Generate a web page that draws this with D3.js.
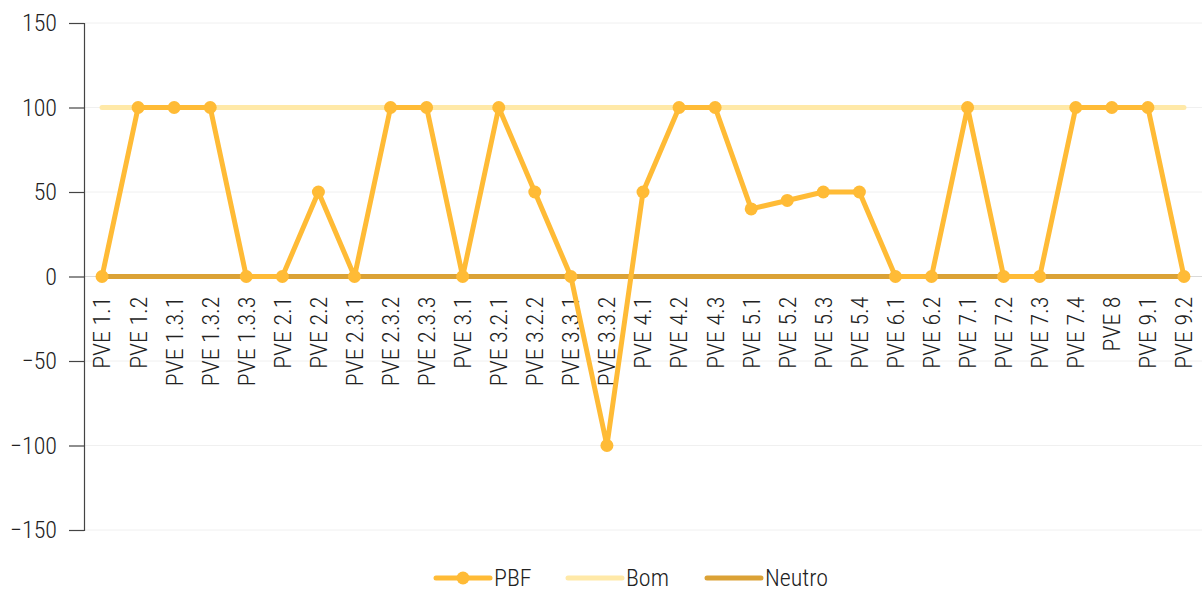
<!DOCTYPE html>
<html>
<head>
<meta charset="utf-8">
<script src="https://cdn.jsdelivr.net/npm/d3@7"></script>
<style>
  body { margin: 0; background: #fff; }
  svg text { font-family: "Roboto Condensed", "Liberation Sans Narrow", Roboto, sans-serif; font-weight: 300; fill: #222; }
</style>
</head>
<body>
<svg id="chart" width="1202" height="592"></svg>
<script>
var categories = ['PVE 1.1','PVE 1.2','PVE 1.3.1','PVE 1.3.2','PVE 1.3.3','PVE 2.1','PVE 2.2','PVE 2.3.1',
  'PVE 2.3.2','PVE 2.3.3','PVE 3.1','PVE 3.2.1','PVE 3.2.2','PVE 3.3.1','PVE 3.3.2','PVE 4.1','PVE 4.2',
  'PVE 4.3','PVE 5.1','PVE 5.2','PVE 5.3','PVE 5.4','PVE 6.1','PVE 6.2','PVE 7.1','PVE 7.2','PVE 7.3',
  'PVE 7.4','PVE 8','PVE 9.1','PVE 9.2'];
var pbf    = [0,100,100,100,0,0,50,0,100,100,0,100,50,0,-100,50,100,100,40,45,50,50,0,0,100,0,0,100,100,100,0];
var bom    = categories.map(function() { return 100; });
var neutro = categories.map(function() { return 0; });
var yTicks = [-150,-100,-50,0,50,100,150];

var svg = d3.select("#chart");
var m = { left: 84, right: 0, top: 23, bottom: 62 };
var W = 1202, H = 592;
var FONT = '"Roboto Condensed", "Liberation Sans Narrow", Roboto, sans-serif';

var x = d3.scalePoint().domain(categories).range([m.left, W - m.right]).padding(0.5);
var y = d3.scaleLinear().domain([-150, 150]).range([H - m.bottom, m.top]);

// gridlines
svg.append("g").selectAll("line")
  .data(yTicks).enter().append("line")
  .attr("x1", m.left).attr("x2", W)
  .attr("y1", function(d) { return y(d); }).attr("y2", function(d) { return y(d); })
  .attr("stroke", function(d) { return d === 0 ? "#d9d9d9" : "#f0f0f0"; })
  .attr("stroke-width", 1);

// y axis
var yAxis = svg.append("g")
  .attr("transform", "translate(" + m.left + ",0)")
  .call(d3.axisLeft(y).tickValues(yTicks).tickSize(15).tickPadding(12));
yAxis.select(".domain").attr("stroke", "#444").attr("stroke-width", 1.2);
yAxis.selectAll(".tick line").attr("stroke", "#444").attr("stroke-width", 1.2);
yAxis.selectAll("text").attr("font-size", 24).attr("fill", "#222")
  .style("font-family", FONT).style("font-weight", 300);

// x labels
svg.append("g").selectAll("text")
  .data(categories).enter().append("text")
  .attr("transform", function(d) { return "translate(" + x(d) + "," + (y(0) + 20) + ") rotate(-90)"; })
  .attr("text-anchor", "end")
  .attr("dy", "0.35em")
  .attr("font-size", 24)
  .text(function(d) { return d; });

var line = d3.line()
  .x(function(d, i) { return x(categories[i]); })
  .y(function(d) { return y(d); });

svg.append("path").datum(bom)
  .attr("d", line).attr("fill", "none")
  .attr("stroke", "#ffe9a8").attr("stroke-width", 5).attr("stroke-linecap", "round");

svg.append("path").datum(neutro)
  .attr("d", line).attr("fill", "none")
  .attr("stroke", "#dba236").attr("stroke-width", 5).attr("stroke-linecap", "round");

svg.append("path").datum(pbf)
  .attr("d", line).attr("fill", "none")
  .attr("stroke", "#ffbb36").attr("stroke-width", 5).attr("stroke-linejoin", "round");

svg.append("g").selectAll("circle")
  .data(pbf).enter().append("circle")
  .attr("cx", function(d, i) { return x(categories[i]); })
  .attr("cy", function(d) { return y(d); })
  .attr("r", 6.5)
  .attr("fill", "#ffbb36");

// legend
var legendItems = [
  { name: "PBF", color: "#ffbb36", marker: true, x: 436 },
  { name: "Bom", color: "#ffe9a8", marker: false, x: 568 },
  { name: "Neutro", color: "#dba236", marker: false, x: 707 }
];
var lg = svg.append("g").selectAll("g")
  .data(legendItems).enter().append("g")
  .attr("transform", function(d) { return "translate(" + d.x + ",578)"; });
lg.append("line")
  .attr("x1", 0).attr("x2", 54).attr("y1", 0).attr("y2", 0)
  .attr("stroke", function(d) { return d.color; })
  .attr("stroke-width", 5).attr("stroke-linecap", "round");
lg.filter(function(d) { return d.marker; }).append("circle")
  .attr("cx", 27).attr("cy", 0).attr("r", 6.5)
  .attr("fill", function(d) { return d.color; });
lg.append("text")
  .attr("x", 58).attr("dy", "0.35em")
  .attr("font-size", 24)
  .text(function(d) { return d.name; });
</script>
</body>
</html>
